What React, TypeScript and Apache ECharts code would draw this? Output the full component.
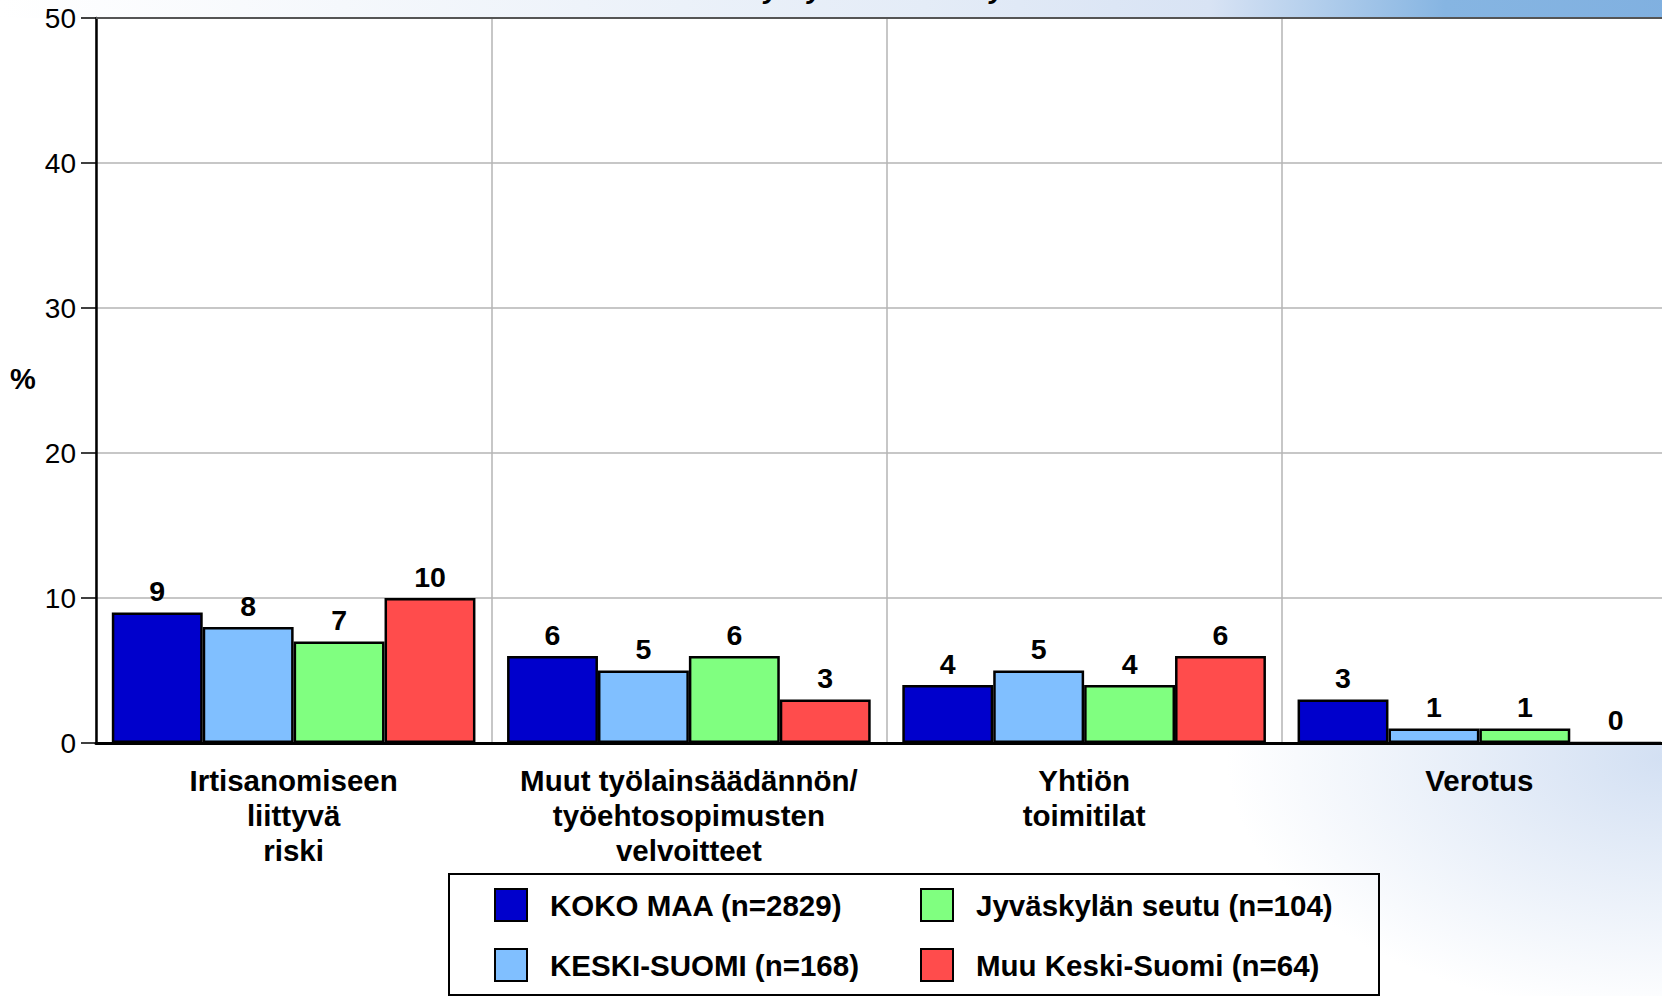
import React, { useEffect, useRef } from "react";
import * as echarts from "echarts";

const categories = [
  "Irtisanomiseen\nliittyvä\nriski",
  "Muut työlainsäädännön/\ntyöehtosopimusten\nvelvoitteet",
  "Yhtiön\ntoimitilat",
  "Verotus",
];
const seriesNames = [
  "KOKO MAA (n=2829)",
  "KESKI-SUOMI (n=168)",
  "Jyväskylän seutu (n=104)",
  "Muu Keski-Suomi (n=64)",
];
const kokoMaa = [9, 6, 4, 3];
const keskiSuomi = [8, 5, 5, 1];
const jyvaskyla = [7, 6, 4, 1];
const muuKeskiSuomi = [10, 3, 6, 0];
const yTicks = { min: 0, max: 50, interval: 10 };
const colors = ["#0000cc", "#80bfff", "#80ff80", "#ff4c4c"];
const titleFragment = "ei yrityksellä tai ei työllistää";

const FONT = "'Liberation Sans', Arial, sans-serif";

export default function App() {
  const ref = useRef<HTMLDivElement>(null);
  useEffect(() => {
    document.body.style.margin = "0";
    document.body.style.overflow = "hidden";
    document.documentElement.style.overflow = "hidden";
    const chart = echarts.init(ref.current!, null, { renderer: "svg" });
    const values = [kokoMaa, keskiSuomi, jyvaskyla, muuKeskiSuomi];
    const series = values.map((d, i) => ({
      name: seriesNames[i],
      type: "bar",
      data: d,
      barGap: "0%",
      barCategoryGap: "8%",
      itemStyle: { color: colors[i], borderColor: "#000", borderWidth: 2.5 },
      label: {
        show: true,
        position: "top",
        distance: 7,
        color: "#000",
        fontWeight: "bold",
        fontSize: 28.5,
        fontFamily: FONT,
      },
    }));
    const legendBase = {
      orient: "vertical",
      top: 888,
      itemWidth: 32,
      itemHeight: 32,
      itemGap: 26,
      padding: 0,
      icon: "rect",
      selectedMode: false,
      textStyle: {
        color: "#000",
        fontWeight: "bold",
        fontSize: 29.5,
        fontFamily: FONT,
        padding: [0, 0, 0, 18],
      },
    };
    chart.setOption({
      animation: false,
      textStyle: { fontFamily: FONT },
      graphic: [
        {
          type: "rect",
          z: -100,
          silent: true,
          shape: { x: 0, y: 0, width: 1680, height: 996 },
          style: {
            fill: new echarts.graphic.RadialGradient(0.99, 0.76, 0.26, [
              { offset: 0, color: "#d3e0f3" },
              { offset: 1, color: "#ffffff" },
            ]),
          },
        },
        {
          type: "rect",
          z: -99,
          silent: true,
          shape: { x: 0, y: 0, width: 1680, height: 18 },
          style: {
            fill: new echarts.graphic.LinearGradient(0, 0, 1, 0, [
              { offset: 0, color: "#ffffff" },
              { offset: 0.55, color: "#e4ecf7" },
              { offset: 0.72, color: "#d8e3f4" },
              { offset: 0.86, color: "#86b5e2" },
              { offset: 1, color: "#80b0e0" },
            ]),
          },
        },
        {
          type: "rect",
          z: -98,
          silent: true,
          shape: { x: 96, y: 18, width: 1584, height: 725 },
          style: { fill: "#ffffff" },
        },
        {
          type: "text",
          z: -97,
          silent: true,
          x: 917,
          y: 2,
          style: {
            text: titleFragment,
            fill: "#000",
            font: `italic bold 28px ${FONT}`,
            align: "center",
            verticalAlign: "bottom",
          },
        },
        {
          type: "line",
          z: 10,
          silent: true,
          shape: { x1: 96, y1: 18, x2: 1680, y2: 18 },
          style: { stroke: "#555", lineWidth: 2 },
        },
        {
          type: "text",
          silent: true,
          x: 23,
          y: 379,
          style: {
            text: "%",
            fill: "#000",
            font: `bold 29px ${FONT}`,
            align: "center",
            verticalAlign: "middle",
          },
        },
        {
          type: "rect",
          silent: true,
          shape: { x: 449, y: 874, width: 930, height: 121 },
          style: { fill: "none", stroke: "#000", lineWidth: 2 },
        },
      ],
      legend: [
        { ...legendBase, left: 494, data: [seriesNames[0], seriesNames[1]] },
        { ...legendBase, left: 920, data: [seriesNames[2], seriesNames[3]] },
      ],
      grid: { left: 96, top: 18, right: 3, bottom: 253, containLabel: false },
      xAxis: {
        type: "category",
        data: categories,
        axisLine: { show: true, lineStyle: { color: "#000", width: 3 } },
        axisTick: { show: false },
        splitLine: { show: true, lineStyle: { color: "#b4b4b4", width: 1.5 } },
        axisLabel: {
          interval: 0,
          margin: 20,
          color: "#000",
          fontWeight: "bold",
          fontSize: 29.5,
          lineHeight: 35,
          fontFamily: FONT,
        },
      },
      yAxis: {
        type: "value",
        min: yTicks.min,
        max: yTicks.max,
        interval: yTicks.interval,
        axisLine: { show: true, lineStyle: { color: "#000", width: 2.5 } },
        axisTick: { show: true, length: 15, lineStyle: { color: "#000", width: 1.5 } },
        splitLine: { show: true, lineStyle: { color: "#b4b4b4", width: 1.5 } },
        axisLabel: {
          margin: 20,
          color: "#000",
          fontSize: 28,
          fontFamily: FONT,
        },
      },
      series,
    });
    return () => chart.dispose();
  }, []);
  return (
    <div style={{ width: 1662, height: 996, overflow: "hidden" }}>
      <div ref={ref} style={{ width: 1680, height: 996 }} />
    </div>
  );
}
